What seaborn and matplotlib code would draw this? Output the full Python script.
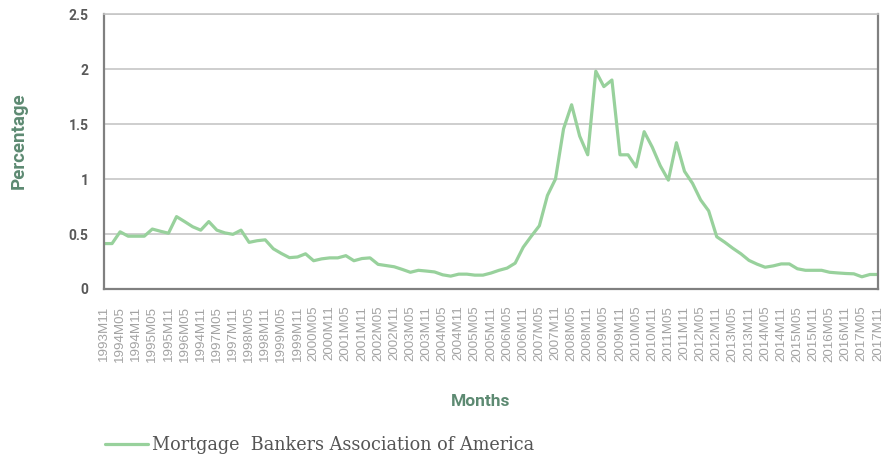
import numpy as np
import pandas as pd
import seaborn as sns
import matplotlib
matplotlib.use("Agg")
import matplotlib.pyplot as plt

# quarterly observations, 1993M11 .. 2017M11
rate = [
    0.413, 0.413, 0.52, 0.48, 0.48, 0.48, 0.545, 0.525, 0.507, 0.658,
    0.613, 0.566, 0.535, 0.613, 0.535, 0.51, 0.497, 0.535, 0.424, 0.439,
    0.447, 0.366, 0.323, 0.285, 0.291, 0.32, 0.257, 0.274, 0.283, 0.283,
    0.303, 0.257, 0.277, 0.283, 0.224, 0.213, 0.202, 0.178, 0.152, 0.17,
    0.163, 0.155, 0.129, 0.117, 0.135, 0.135, 0.126, 0.126, 0.145, 0.17,
    0.19, 0.235, 0.38, 0.48, 0.575, 0.85, 1.0, 1.456, 1.675, 1.39,
    1.22, 1.98, 1.84, 1.9, 1.22, 1.22, 1.11, 1.43, 1.29, 1.12,
    0.99, 1.33, 1.07, 0.96, 0.81, 0.71, 0.475, 0.425, 0.37, 0.32,
    0.26, 0.226, 0.198, 0.21, 0.228, 0.228, 0.184, 0.17, 0.17, 0.17,
    0.152, 0.146, 0.141, 0.138, 0.111, 0.132, 0.132,
]

# every second observation gets a label (as in the source, incl. its typo)
tick_labels = [
    "1993M11", "1994M05", "1994M11", "1995M05", "1995M11", "1996M05",
    "1994M11", "1997M05", "1997M11", "1998M05", "1998M11", "1999M05",
    "1999M11", "2000M05", "2000M11", "2001M05", "2001M11", "2002M05",
    "2002M11", "2003M05", "2003M11", "2004M05", "2004M11", "2005M05",
    "2005M11", "2006M05", "2006M11", "2007M05", "2007M11", "2008M05",
    "2008M11", "2009M05", "2009M11", "2010M05", "2010M11", "2011M05",
    "2011M11", "2012M05", "2012M11", "2013M05", "2013M11", "2014M05",
    "2014M11", "2015M05", "2015M11", "2016M05", "2016M11", "2017M05",
    "2017M11",
]

series_name = "Mortgage  Bankers Association of America"
y_ticks = [0, 0.5, 1, 1.5, 2, 2.5]
y_tick_labels = ["0", "0.5", "1", "1.5", "2", "2.5"]

df = pd.DataFrame({"obs": np.arange(len(rate)), "rate": rate})

sns.set_theme(style="white")
plt.rcParams["font.family"] = ["Liberation Sans", "DejaVu Sans"]
bold_family = ["Liberation Sans Narrow", "Roboto"]

fig = plt.figure(figsize=(8.94, 4.58), dpi=100)
ax = fig.add_axes([0.1163, 0.369, 0.8658, 0.6004])

sns.lineplot(data=df, x="obs", y="rate", ax=ax, color="#98d19c",
             linewidth=2.3, label=series_name, legend=False)

ax.set_xlim(0, len(rate) - 1)
ax.set_ylim(0, 2.5)

ax.set_yticks(y_ticks)
ax.set_yticklabels(y_tick_labels, fontsize=10, fontweight="bold",
                   color="#595959", family=bold_family)
ax.set_xticks(np.arange(0, len(rate), 2))
ax.set_xticklabels(tick_labels, rotation=90, fontsize=9.6, color="#a3a3a3")
ax.tick_params(axis="x", length=0, pad=12)
ax.tick_params(axis="y", length=0, pad=11)

ax.grid(axis="y", color="#c6c6c6", linewidth=1.2)
ax.set_axisbelow(True)
for side in ["left", "bottom", "right"]:
    ax.spines[side].set_color("#808080")
    ax.spines[side].set_linewidth(1.6)
ax.spines["top"].set_color("#c6c6c6")
ax.spines["top"].set_linewidth(1.2)

ax.set_xlabel("Months", fontsize=12.5, fontweight="bold", color="#5d8a72",
              family=bold_family)
ax.set_ylabel("Percentage", fontsize=13.5, fontweight="bold", color="#5d8a72",
              family=bold_family)
ax.xaxis.set_label_coords(0.486, -0.383)
ax.yaxis.set_label_coords(-0.098, 0.538)

handles, labels = ax.get_legend_handles_labels()
leg = fig.legend(handles, labels, loc="lower left",
                 bbox_to_anchor=(0.1, -0.027), frameon=False,
                 handlelength=2.4, handletextpad=0.25,
                 prop={"family": "DejaVu Serif", "size": 12.7})
for t in leg.get_texts():
    t.set_color("#555555")

fig.savefig("out.png", dpi=100)
